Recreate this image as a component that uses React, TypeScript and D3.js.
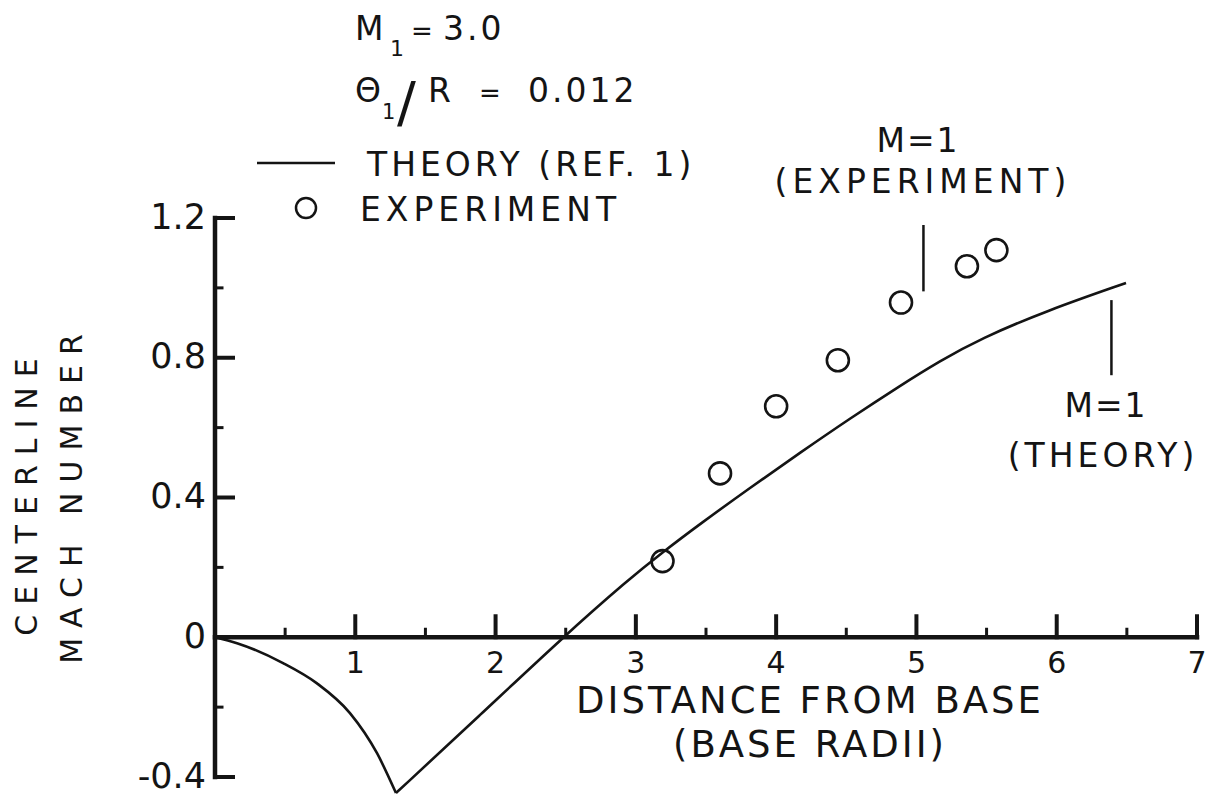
import React from 'react';
import * as d3 from 'd3';

// Axis ticks
const xTicks = [1, 2, 3, 4, 5, 6, 7];
const xMinorTicks = [0.5, 1.5, 2.5, 3.5, 4.5, 5.5, 6.5];
const yTicks = [-0.4, 0, 0.4, 0.8, 1.2];
const yTickLabels = ['-0.4', '0', '0.4', '0.8', '1.2'];
const yMinorTicks = [-0.2, 0.2, 0.6, 1.0];

// Theory (Ref. 1): expansion branch down to the minimum
const theoryExpansion: [number, number][] = [
  [0, 0], [0.157, -0.017], [0.485, -0.074], [0.727, -0.132],
  [0.962, -0.217], [1.155, -0.332], [1.29, -0.446],
];
// Theory (Ref. 1): branch from the minimum up through the sonic point
const theoryRecovery: [number, number][] = [
  [1.29, -0.446], [1.889, -0.223], [2.48, 0], [2.944, 0.164],
  [3.193, 0.244], [3.457, 0.324], [3.814, 0.428], [4.17, 0.528],
  [4.526, 0.626], [4.883, 0.72], [5.168, 0.791], [5.453, 0.854],
  [5.93, 0.935], [6.494, 1.014],
];

// Experiment: distance (base radii), centerline Mach number
const experiment: [number, number][] = [
  [3.19, 0.218], [3.6, 0.469], [4.0, 0.661], [4.44, 0.793],
  [4.89, 0.958], [5.36, 1.062], [5.57, 1.108],
];

// Sonic-point markers (x position, M range of the marker stroke)
const sonicExperiment = { x: 5.05, m0: 0.99, m1: 1.18 };
const sonicTheory = { x: 6.39, m0: 0.75, m1: 0.965 };

const W = 1209;
const H = 796;
const INK = '#141414';
const FONT = '"DejaVu Sans", Verdana, sans-serif';

export default function App() {
  const x = d3.scaleLinear().domain([0, 7]).range([215, 1197]);
  const y = d3.scaleLinear().domain([-0.4, 1.2]).range([777, 218]);

  const expansionLine = d3
    .line<[number, number]>()
    .x((d) => x(d[0]))
    .y((d) => y(d[1]))
    .curve(d3.curveMonotoneX);

  const recoveryLine = d3
    .line<[number, number]>()
    .x((d) => x(d[0]))
    .y((d) => y(d[1]))
    .curve(d3.curveBasis);

  const x0 = x(0);
  const y0 = y(0);

  return (
    <svg
      width={W}
      height={H}
      viewBox={`0 0 ${W} ${H}`}
      style={{ position: 'absolute', left: 0, top: 0, background: '#fff' }}
      fontFamily={FONT}
      fill={INK}
    >
      <rect x={0} y={0} width={W} height={H} fill="#fff" />

      {/* Parameter block */}
      <text y={40} fontSize={33}>
        <tspan x={355}>M</tspan>
        <tspan x={390} dy={16} fontSize={22}>1</tspan>
        <tspan x={411} dy={-16} fontSize={26}>=</tspan>
        <tspan x={443} letterSpacing={3}>3.0</tspan>
      </text>
      <text y={102} fontSize={33}>
        <tspan x={355}>Θ</tspan>
        <tspan x={382} dy={17} fontSize={21}>1</tspan>
        <tspan x={397} dy={2} fontSize={56}>/</tspan>
        <tspan x={428} dy={-19}>R</tspan>
        <tspan x={479} fontSize={26}>=</tspan>
        <tspan x={528} letterSpacing={3}>0.012</tspan>
      </text>

      {/* Legend */}
      <line x1={257} x2={335} y1={163} y2={163} stroke={INK} strokeWidth={2.5} />
      <text x={367} y={176} fontSize={33} letterSpacing={4}>THEORY (REF. 1)</text>
      <circle cx={306} cy={208} r={10} fill="none" stroke={INK} strokeWidth={2.5} />
      <text x={360} y={221} fontSize={33} letterSpacing={5}>EXPERIMENT</text>

      {/* Axes */}
      <g stroke={INK} strokeLinecap="square">
        <line x1={x0} x2={x0} y1={y(1.2)} y2={y(-0.4)} strokeWidth={4.5} />
        <line x1={x0} x2={x(7)} y1={y0} y2={y0} strokeWidth={4.5} />
        {xTicks.map((t) => (
          <line key={`xt${t}`} x1={x(t)} x2={x(t)} y1={y0} y2={y0 - 21} strokeWidth={4} />
        ))}
        {xMinorTicks.map((t) => (
          <line key={`xm${t}`} x1={x(t)} x2={x(t)} y1={y0} y2={y0 - 8} strokeWidth={3} />
        ))}
        {yTicks.filter((t) => t !== 0).map((t) => (
          <line key={`yt${t}`} x1={x0} x2={x0 + 18} y1={y(t)} y2={y(t)} strokeWidth={4} />
        ))}
        {yMinorTicks.map((t) => (
          <line key={`ym${t}`} x1={x0} x2={x0 + 7} y1={y(t)} y2={y(t)} strokeWidth={3} />
        ))}
      </g>

      {/* Tick labels */}
      <g fontSize={30} textAnchor="middle">
        {xTicks.map((t) => (
          <text key={`xl${t}`} x={x(t)} y={673}>{t}</text>
        ))}
      </g>
      <g fontSize={35} textAnchor="end">
        {yTicks.map((t, i) => (
          <text key={`yl${t}`} x={206} y={y(t)} dy="0.3em">{yTickLabels[i]}</text>
        ))}
      </g>

      {/* Axis titles */}
      <g fontSize={37} textAnchor="middle" letterSpacing={3}>
        <text x={810} y={713}>DISTANCE FROM BASE</text>
        <text x={810} y={757}>(BASE RADII)</text>
      </g>
      <g fontSize={30} textAnchor="middle" letterSpacing={10}>
        <text transform="translate(37,492) rotate(-90)">CENTERLINE</text>
        <text transform="translate(82,494) rotate(-90)">MACH NUMBER</text>
      </g>

      {/* Theory curve */}
      <path d={expansionLine(theoryExpansion) ?? ''} fill="none" stroke={INK} strokeWidth={2.6} />
      <path d={recoveryLine(theoryRecovery) ?? ''} fill="none" stroke={INK} strokeWidth={2.6} />

      {/* Experimental points */}
      {experiment.map((d, i) => (
        <circle
          key={`e${i}`}
          cx={x(d[0])}
          cy={y(d[1])}
          r={11}
          fill="none"
          stroke={INK}
          strokeWidth={2.6}
        />
      ))}

      {/* Sonic point annotations */}
      <line
        x1={x(sonicExperiment.x)} x2={x(sonicExperiment.x)}
        y1={y(sonicExperiment.m0)} y2={y(sonicExperiment.m1)}
        stroke={INK} strokeWidth={2.5}
      />
      <text x={918} y={152} fontSize={33} textAnchor="middle" letterSpacing={2}>M=1</text>
      <text x={923} y={193} fontSize={33} textAnchor="middle" letterSpacing={5}>(EXPERIMENT)</text>

      <line
        x1={x(sonicTheory.x)} x2={x(sonicTheory.x)}
        y1={y(sonicTheory.m0)} y2={y(sonicTheory.m1)}
        stroke={INK} strokeWidth={2.5}
      />
      <text x={1106} y={417} fontSize={33} textAnchor="middle" letterSpacing={2}>M=1</text>
      <text x={1103} y={467} fontSize={33} textAnchor="middle" letterSpacing={4}>(THEORY)</text>
    </svg>
  );
}
